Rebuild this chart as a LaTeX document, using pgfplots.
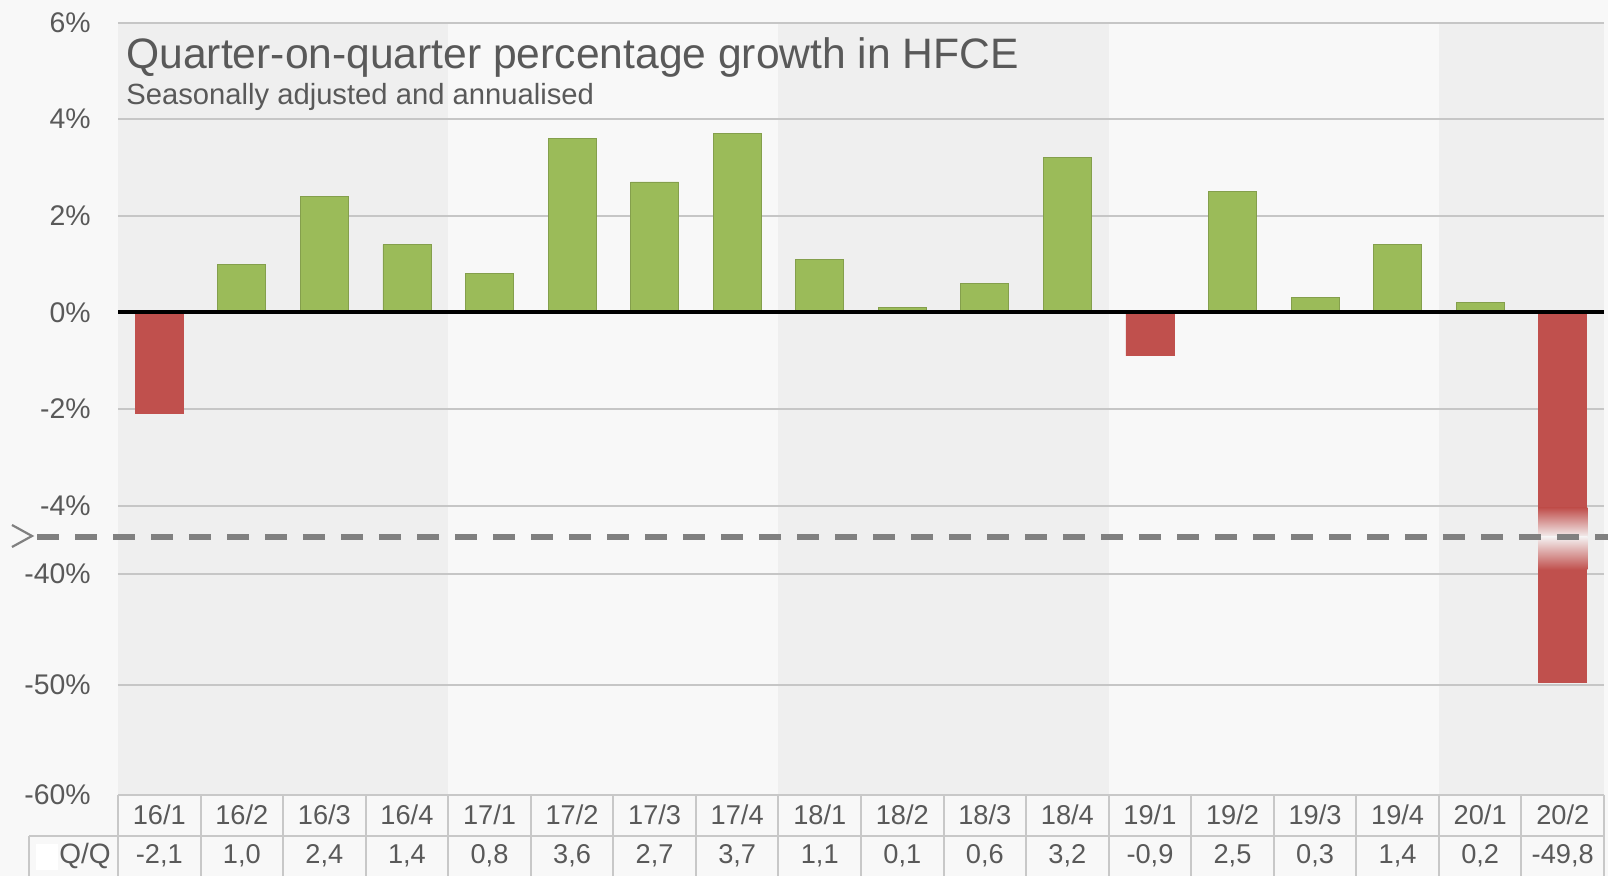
\documentclass[border=0pt]{standalone}
\usepackage{pgfplots}
\pgfplotsset{compat=1.18}
\usepackage{fontspec}
\setmainfont{Liberation Sans}
\definecolor{bgc}{HTML}{F8F8F8}
\definecolor{band}{HTML}{EFEFEF}
\definecolor{gridc}{HTML}{C6C6C6}
\definecolor{txt}{HTML}{595959}
\definecolor{pos}{HTML}{9BBB59}
\definecolor{negc}{HTML}{C0504D}
\definecolor{dashc}{HTML}{808080}
\definecolor{tabline}{HTML}{C8C8C8}
\definecolor{fadec}{HTML}{F4F0F0}
\pgfplotsset{
  brk/.style={
    scale only axis, width=743pt, xmin=-0.5, xmax=17.5,
    axis line style={draw=none}, xtick=\empty,
    major tick length=0pt,
    ymajorgrids, grid style={gridc, line width=1pt},
    ybar, bar width=24pt, bar shift=0pt,
    yticklabel style={font=\fontsize{14.2}{16}\selectfont, text=txt, anchor=east, inner sep=0pt, xshift=-13.5pt},
    clip=true,
  }
}
\begin{document}
\begin{tikzpicture}
\fill[bgc] (0,0) rectangle (804pt,-438pt);
\foreach \a/\b in {0/4, 8/12, 16/18} {
  \fill[band] ({59pt+\a*41.2778pt},-11.3pt) rectangle ({59pt+\b*41.2778pt},-397.5pt);
}
% top part
\begin{axis}[brk, at={(59pt,-268.5pt)}, anchor=south west, height=257.2pt,
  ymin=-4.65, ymax=6, ytick={-4,-2,0,2,4,6}, yticklabels={-4\%,-2\%,0\%,2\%,4\%,6\%}]
\addplot[fill=pos, draw=pos!85!black, line width=0.4pt] coordinates {
(1,1.0) (2,2.4) (3,1.4) (4,0.8) (5,3.6) (6,2.7) (7,3.7) (8,1.1) (9,0.1) (10,0.6) (11,3.2) (13,2.5) (14,0.3) (15,1.4) (16,0.2)};
\addplot[fill=negc, draw=negc, line width=0.4pt] coordinates {(0,-2.1) (12,-0.9) (17,-49.8)};
\shade[top color=negc, bottom color=fadec] (axis cs:16.703,-4.05) rectangle (axis cs:17.297,-4.65);
\draw[black, line width=2pt] (axis cs:-0.5,0) -- (axis cs:17.5,0);
\end{axis}
% bottom part
\begin{axis}[brk, at={(59pt,-397.5pt)}, anchor=south west, height=129pt,
  ymin=-60, ymax=-36.65, ytick={-60,-50,-40}, yticklabels={-60\%,-50\%,-40\%}]
\addplot[fill=negc, draw=negc, line width=0.4pt] coordinates {(17,-49.8)};
\shade[top color=fadec, bottom color=negc] (axis cs:16.703,-36.65) rectangle (axis cs:17.297,-39.6);
\end{axis}
% break marker
\draw[dashc, line width=3pt, dash pattern=on 11pt off 8pt] (18.5pt,-268.5pt) -- (804pt,-268.5pt);
\draw[dashc, line width=1.1pt] (6pt,-262.5pt) -- (16pt,-268pt) -- (6pt,-273.5pt);
% titles
\node[anchor=base west, text=txt, font=\fontsize{21.3}{25}\selectfont, inner sep=0pt] at (63pt,-34.4pt) {Quarter-on-quarter percentage growth in HFCE};
\node[anchor=base west, text=txt, font=\fontsize{14.6}{17}\selectfont, inner sep=0pt] at (63pt,-52.3pt) {Seasonally adjusted and annualised};
% table
\foreach \k in {0,...,18} {
  \draw[tabline, line width=1pt] ({59pt+\k*41.2778pt},-397.5pt) -- ({59pt+\k*41.2778pt},-438pt);
}
\draw[tabline, line width=1pt] (59pt,-397.5pt) -- (802pt,-397.5pt);
\draw[tabline, line width=1pt] (14.5pt,-418pt) -- (802pt,-418pt);
\draw[tabline, line width=1pt] (14.5pt,-418pt) -- (14.5pt,-438pt);
\fill[white] (18pt,-422pt) rectangle (29pt,-435pt);
\node[anchor=east, text=txt, font=\fontsize{14}{16}\selectfont, inner sep=0pt] at (55.5pt,-428pt) {Q/Q};
\foreach \yy/\qq/\v [count=\i from 0] in {16/1/-2{,}1, 16/2/1{,}0, 16/3/2{,}4, 16/4/1{,}4, 17/1/0{,}8, 17/2/3{,}6, 17/3/2{,}7, 17/4/3{,}7, 18/1/1{,}1, 18/2/0{,}1, 18/3/0{,}6, 18/4/3{,}2, 19/1/-0{,}9, 19/2/2{,}5, 19/3/0{,}3, 19/4/1{,}4, 20/1/0{,}2, 20/2/-49{,}8} {
  \node[text=txt, font=\fontsize{13.6}{16}\selectfont, inner sep=0pt] at ({59pt+(\i+0.5)*41.2778pt},-407.5pt) {\yy/\qq};
  \node[text=txt, font=\fontsize{13.6}{16}\selectfont, inner sep=0pt] at ({59pt+(\i+0.5)*41.2778pt},-428pt) {\v};
}
\pgfresetboundingbox
\useasboundingbox (0,0) rectangle (804pt,-438pt);
\end{tikzpicture}
\end{document}
